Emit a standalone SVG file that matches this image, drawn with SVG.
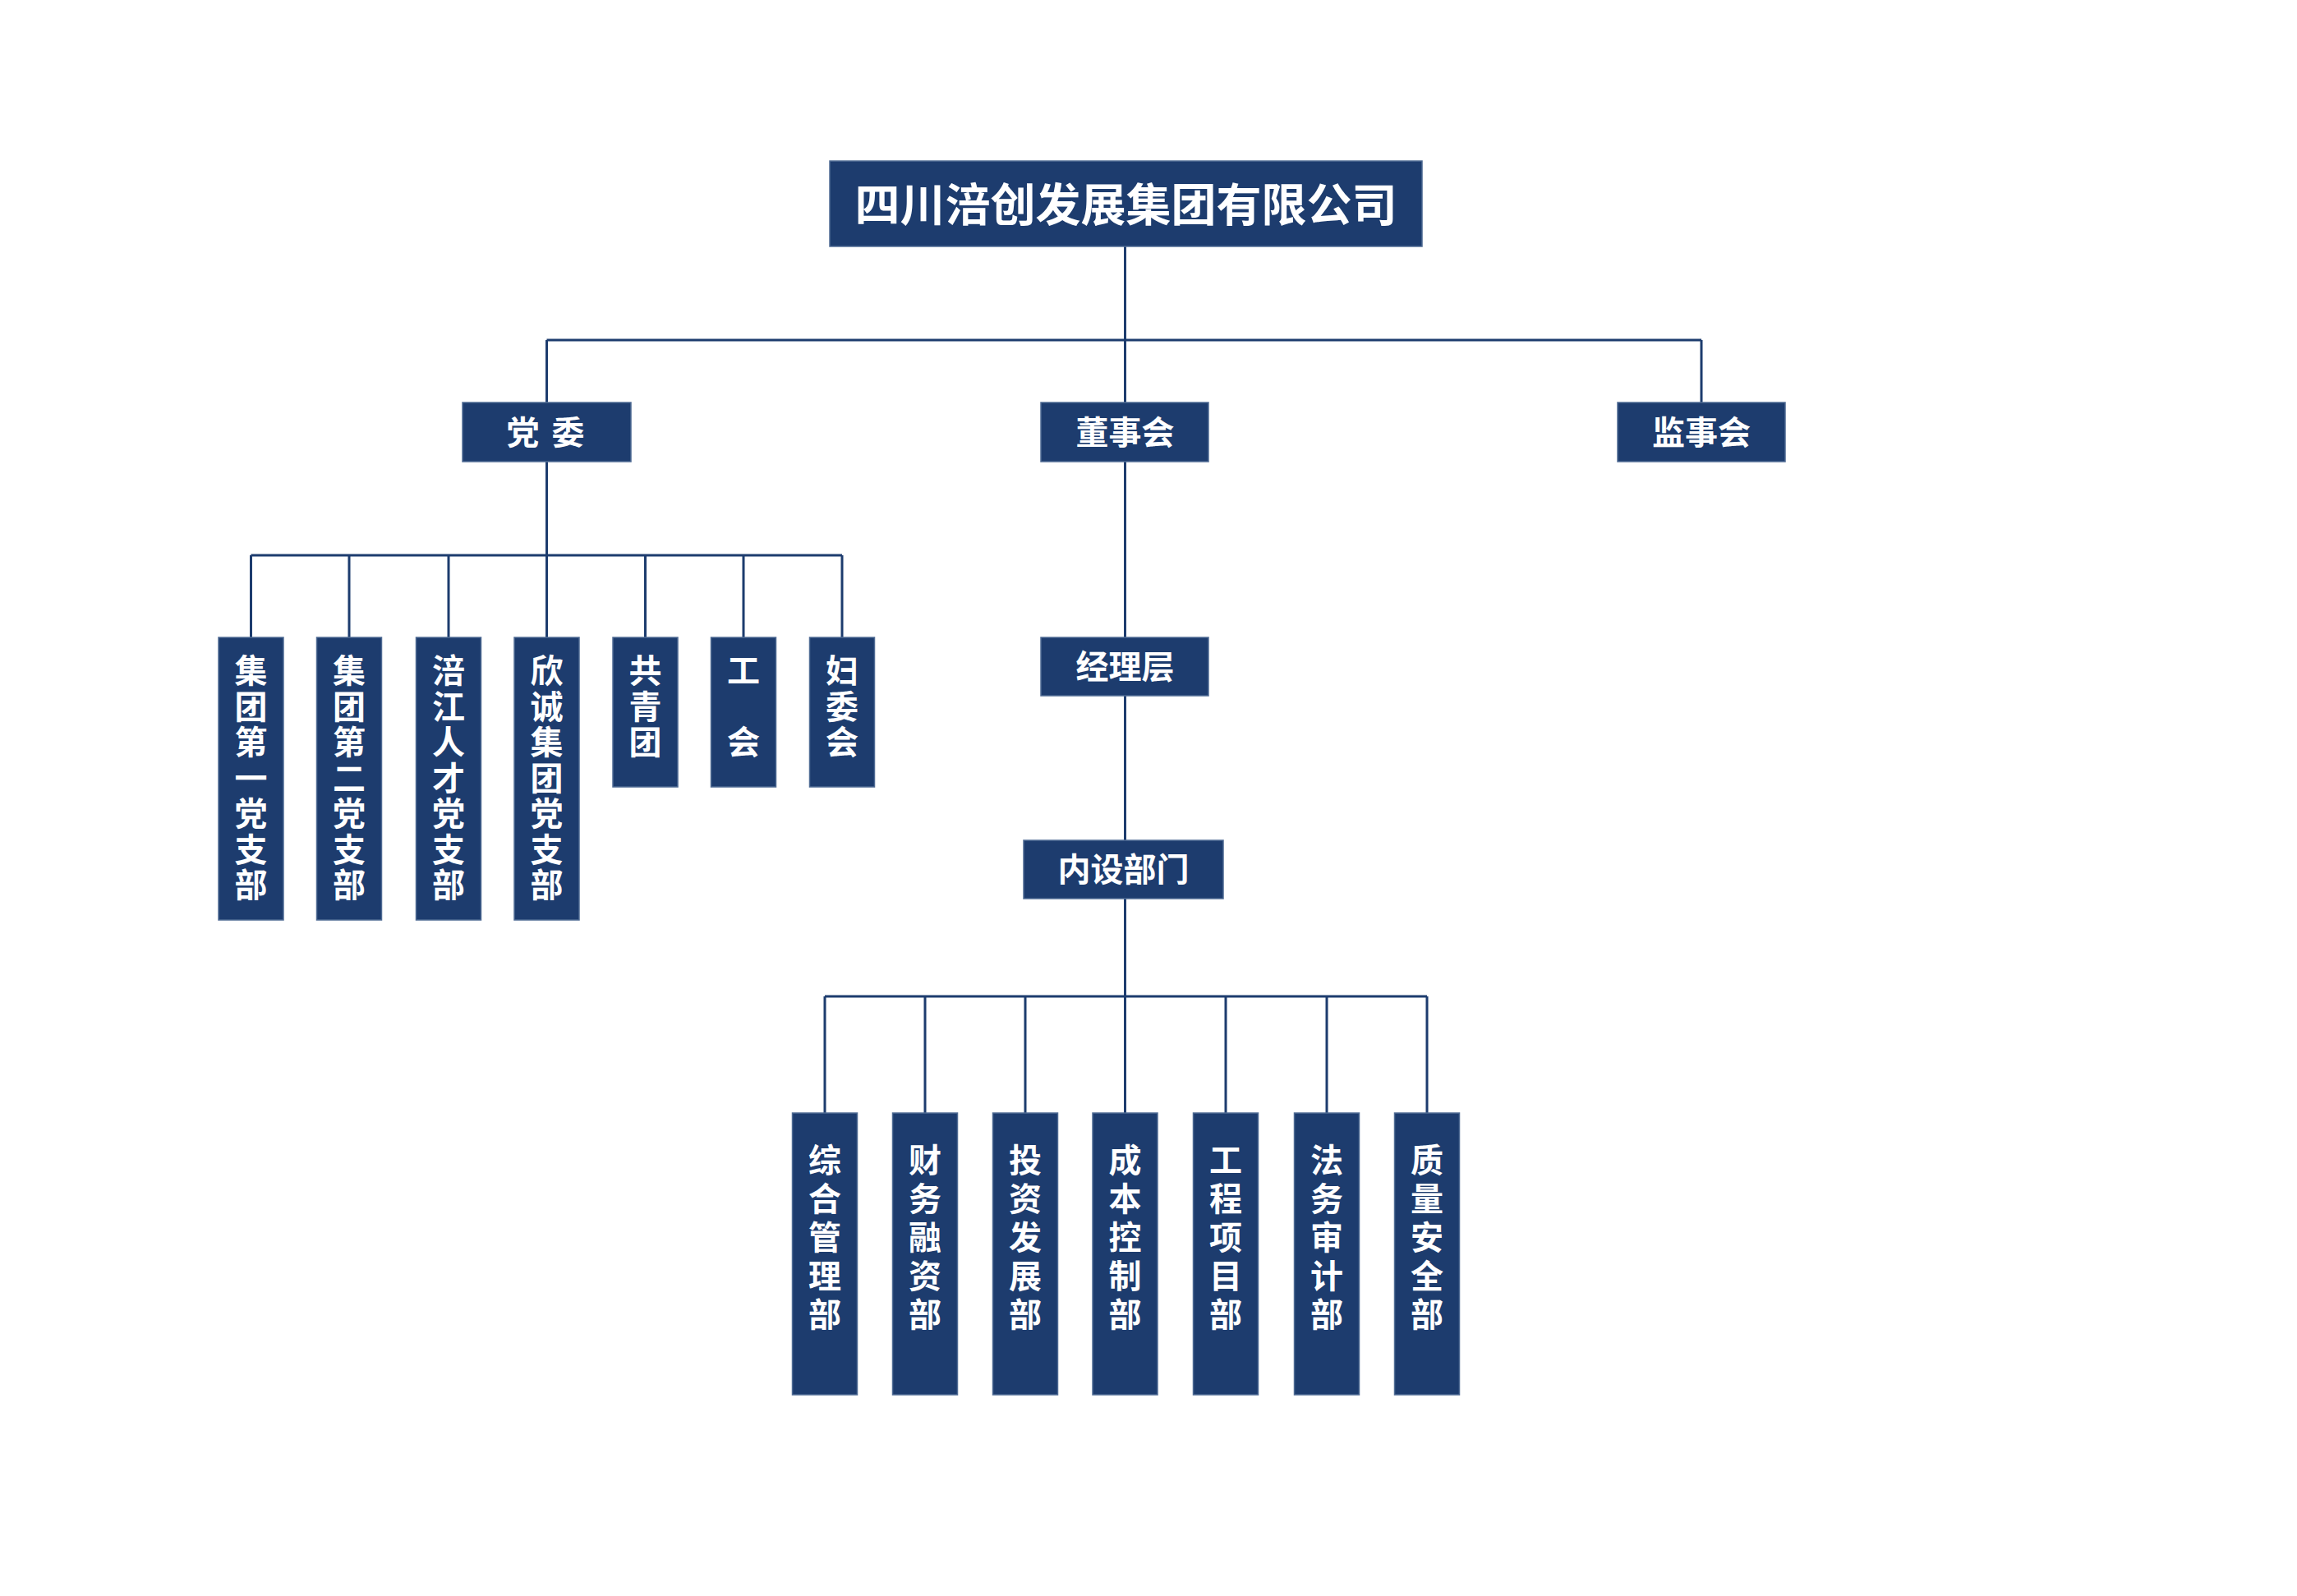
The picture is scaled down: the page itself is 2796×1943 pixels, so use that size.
<svg xmlns="http://www.w3.org/2000/svg" width="2796" height="1943" viewBox="0 0 2796 1943">
<style>
.box{fill:#1d3c6e;stroke:#4f6b94;stroke-width:1.5}
.lbl{fill:#ffffff;font-family:"Noto Sans CJK SC","Noto Sans",sans-serif;font-weight:700;font-size:40px;text-anchor:middle}
.title{font-size:55px}
.vt{fill:#ffffff;font-family:"Noto Sans CJK SC","Noto Sans",sans-serif;font-weight:700;font-size:40px;writing-mode:vertical-rl;text-orientation:upright;letter-spacing:3.5px}
.vb{letter-spacing:7px}
.con{fill:none;stroke:#1d3c6e;stroke-width:3}
</style>
<rect width="2796" height="1943" fill="#ffffff"/>
<g id="connectors">
<path class="con" d="M1369.5 300 V414 M665.5 414 H2071 M665.5 414 V490 M1369.5 414 V490 M2071 414 V490"/>
<path class="con" d="M665.5 562 V676 M305.5 676 H1025 M305.5 676 V776 M425 676 V776 M546 676 V776 M665.5 676 V776 M785.5 676 V776 M905 676 V776 M1025 676 V776"/>
<path class="con" d="M1369.5 562 V776 M1369.5 847 V1023 M1369.5 1094 V1213 M1004 1213 H1737 M1004 1213 V1355 M1126 1213 V1355 M1248 1213 V1355 M1369.5 1213 V1355 M1492 1213 V1355 M1615 1213 V1355 M1737 1213 V1355"/>
</g>
<g id="n-company"><rect class="box" x="1010" y="196" width="721" height="104"/><text class="lbl title" x="1370.5" y="269">四川涪创发展集团有限公司</text></g>
<g id="n-dangwei"><rect class="box" x="563" y="490" width="205" height="72"/><text class="lbl" x="665.5" y="541" letter-spacing="3">党 委</text></g>
<g id="n-dongshihui"><rect class="box" x="1267" y="490" width="204" height="72"/><text class="lbl" x="1369.5" y="541">董事会</text></g>
<g id="n-jianshihui"><rect class="box" x="1969" y="490" width="204" height="72"/><text class="lbl" x="2071" y="541">监事会</text></g>
<g id="n-jingliceng"><rect class="box" x="1267" y="776" width="204" height="71"/><text class="lbl" x="1369.5" y="826">经理层</text></g>
<g id="n-neishe"><rect class="box" x="1246" y="1023" width="243" height="71"/><text class="lbl" x="1367.5" y="1073">内设部门</text></g>

<g id="n-p1"><rect class="box" x="266" y="776" width="79" height="344"/><text class="vt" x="305.5" y="796">集团第一党支部</text></g>
<g id="n-p2"><rect class="box" x="385.5" y="776" width="79" height="344"/><text class="vt" x="425" y="796">集团第二党支部</text></g>
<g id="n-p3"><rect class="box" x="506.5" y="776" width="79" height="344"/><text class="vt" x="546" y="796">涪江人才党支部</text></g>
<g id="n-p4"><rect class="box" x="626" y="776" width="79" height="344"/><text class="vt" x="665.5" y="796">欣诚集团党支部</text></g>
<g id="n-p5"><rect class="box" x="746" y="776" width="79" height="182"/><text class="vt" x="785.5" y="796">共青团</text></g>
<g id="n-p6"><rect class="box" x="865.5" y="776" width="79" height="182"/><text class="vt" x="905" y="796">工　会</text></g>
<g id="n-p7"><rect class="box" x="985.5" y="776" width="79" height="182"/><text class="vt" x="1025" y="796">妇委会</text></g>

<g id="n-d1"><rect class="box" x="964.5" y="1355" width="79" height="343"/><text class="vt vb" x="1004" y="1392">综合管理部</text></g>
<g id="n-d2"><rect class="box" x="1086.5" y="1355" width="79" height="343"/><text class="vt vb" x="1126" y="1392">财务融资部</text></g>
<g id="n-d3"><rect class="box" x="1208.5" y="1355" width="79" height="343"/><text class="vt vb" x="1248" y="1392">投资发展部</text></g>
<g id="n-d4"><rect class="box" x="1330" y="1355" width="79" height="343"/><text class="vt vb" x="1369.5" y="1392">成本控制部</text></g>
<g id="n-d5"><rect class="box" x="1452.5" y="1355" width="79" height="343"/><text class="vt vb" x="1492" y="1392">工程项目部</text></g>
<g id="n-d6"><rect class="box" x="1575.5" y="1355" width="79" height="343"/><text class="vt vb" x="1615" y="1392">法务审计部</text></g>
<g id="n-d7"><rect class="box" x="1697.5" y="1355" width="79" height="343"/><text class="vt vb" x="1737" y="1392">质量安全部</text></g>
</svg>
